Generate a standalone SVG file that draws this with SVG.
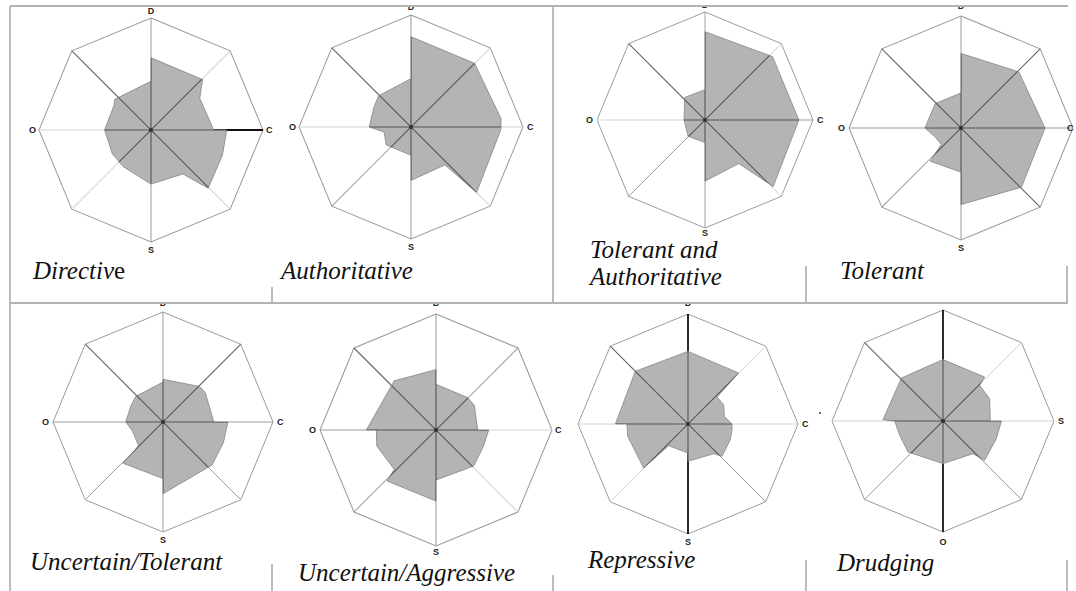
<svg xmlns="http://www.w3.org/2000/svg" xmlns:xlink="http://www.w3.org/1999/xlink" width="1076" height="591" viewBox="0 0 1076 591">
  <style>
    .frame { fill: #fff; stroke: #9a9a9a; stroke-width: 0.9; }
    .area { fill: #b4b4b4; stroke: #8c8c8c; stroke-width: 0.8; stroke-linejoin: round; }
    .inner { fill: none; stroke: #555; stroke-width: 1; }
    .blk { stroke: #111; stroke-width: 1.6; }
    .drk { stroke: #666; stroke-width: 1; }
    .mid { stroke: #9c9c9c; stroke-width: 0.9; }
    .lgt { stroke: #d2d2d2; stroke-width: 0.9; }
    .hub { fill: #333; }
    .ax { font-family: "Liberation Sans", Arial, sans-serif; font-weight: bold; font-size: 9px; fill: #222; }
    .cap { font-family: "Liberation Serif", "Times New Roman", Times, serif; font-style: italic; font-size: 25px; fill: #111; }
    .rule { stroke: #b4b4b4; stroke-width: 1.8; fill: none; }
  </style>
  <defs>
    <!-- unit octagon (radius 100) and its eight spokes -->
    <polygon id="oct" points="0,-100 70.7,-70.7 100,0 70.7,70.7 0,100 -70.7,70.7 -100,0 -70.7,-70.7"/>
    <line id="sD" x1="0" y1="0" x2="0" y2="-100"/>
    <line id="sNE" x1="0" y1="0" x2="70.7" y2="-70.7"/>
    <line id="sC" x1="0" y1="0" x2="100" y2="0"/>
    <line id="sSE" x1="0" y1="0" x2="70.7" y2="70.7"/>
    <line id="sS" x1="0" y1="0" x2="0" y2="100"/>
    <line id="sSW" x1="0" y1="0" x2="-70.7" y2="70.7"/>
    <line id="sO" x1="0" y1="0" x2="-100" y2="0"/>
    <line id="sNW" x1="0" y1="0" x2="-70.7" y2="-70.7"/>
    <path id="spokes" d="M0,-100V100M-100,0H100M-70.7,-70.7L70.7,70.7M70.7,-70.7L-70.7,70.7"/>

    <!-- profile shapes -->
    <polygon id="p1" points="0,-64.5 46,-45 43.5,-28.4 56,0 67.6,0 63.7,22.7 51,52 28.5,39.2 0,48.3 -24.9,32.7 -34.5,21.3 -41.4,0 -33,-22 -32.4,-27.4 0,-43.5"/>
    <polygon id="p2" points="0,-80.6 56.7,-56.9 80.3,-7.7 80.3,0 80,3 58.5,58.5 30.3,33.8 0,47.7 0,25.2 -22.1,16 -24,4.5 -37.3,0 -33,-18 -28.8,-28 0,-43.1"/>
    <polygon id="p3" points="0,-81.7 62.5,-58.7 86.9,0 63.1,61.6 31.3,40.3 0,56.6 0,20.8 -15.6,15.1 -19.4,0 -18.8,-20.9 0,-28.1"/>
    <polygon id="p4" points="0,-66.6 51.6,-50.1 75,0 54,52.8 0,68.4 0,39.4 -27.5,29.6 -17.6,14.6 -23,8.1 -32.2,0 -23,-21.8 0,-31.3"/>
    <polygon id="p5" points="0,-38.8 33.2,-32.3 38.5,-26.5 46.2,0 59,0 54.8,19.1 44.6,39.1 0,65.2 0,51.4 -36.3,37.5 -22.2,21.5 -27.7,8.3 -33.8,0 -29.2,-14.8 -24.6,-23.4 0,-36.3"/>
    <polygon id="p6" points="0,-39.4 27.3,-27.9 33,-21.3 35.9,0 45.4,0 41,13.8 32.5,31 0,43.1 0,61.2 -42.2,44 -36,33.9 -51,13.8 -51.4,0 -60,0 -36,-42.4 0,-52"/>
    <polygon id="p7" points="0,-66 46,-46.4 26.4,-24.5 32.4,-17.6 33,-7 40,0 40,5.1 38.5,14.2 30.9,29.4 23.3,27 0,33.9 0,26.4 -17.6,19.7 -40.3,40 -54.8,11.2 -55.5,0 -66,0 -47.9,-47.9"/>
    <polygon id="p8" points="0,-55.3 37.5,-39.6 33,-32.1 42,-20.1 42.6,0 52.6,0 48,15.9 37.5,35.4 27,29.4 0,38.4 -18,32.4 -31.5,27.9 -39,12.9 -43.5,0 -54,-1.2 -37.5,-38.7"/>

    <clipPath id="k1"><use xlink:href="#p1"/></clipPath>
    <clipPath id="k2"><use xlink:href="#p2"/></clipPath>
    <clipPath id="k3"><use xlink:href="#p3"/></clipPath>
    <clipPath id="k4"><use xlink:href="#p4"/></clipPath>
    <clipPath id="k5"><use xlink:href="#p5"/></clipPath>
    <clipPath id="k6"><use xlink:href="#p6"/></clipPath>
    <clipPath id="k7"><use xlink:href="#p7"/></clipPath>
    <clipPath id="k8"><use xlink:href="#p8"/></clipPath>

    <!-- table rows -->
    <clipPath id="rowTop"><rect x="0" y="7" width="1076" height="296"/></clipPath>
    <clipPath id="rowBot"><rect x="0" y="304" width="1076" height="287"/></clipPath>
  </defs>

  <rect width="1076" height="591" fill="#fff"/>

  <!-- table rules -->
  <g id="table">
    <path class="rule" d="M10,6H1068 M10,303H1068 M10,6V591 M553,6V303"/>
    <path class="rule" d="M272,287V303 M806,266V303 M1067,266V303"/>
    <path class="rule" d="M272,564V591 M553,575V591 M806,560V591 M1067,560V591"/>
  </g>

  <!-- Directive -->
  <g id="chart-directive">
    <g clip-path="url(#rowTop)">
      <g transform="translate(151,130) scale(1.12)">
        <use xlink:href="#oct" class="frame"/>
        <use xlink:href="#sD" class="mid"/><use xlink:href="#sNE" class="lgt"/><use xlink:href="#sC" class="blk"/><use xlink:href="#sSE" class="lgt"/>
        <use xlink:href="#sS" class="mid"/><use xlink:href="#sSW" class="lgt"/><use xlink:href="#sO" class="lgt"/><use xlink:href="#sNW" class="drk"/>
        <use xlink:href="#p1" class="area"/>
        <use xlink:href="#spokes" class="inner" clip-path="url(#k1)"/>
        <circle class="hub" r="1.8"/>
      </g>
      <text class="ax" x="151" y="14" text-anchor="middle">D</text>
      <text class="ax" x="266" y="133">C</text>
      <text class="ax" x="36" y="133" text-anchor="end">O</text>
      <text class="ax" x="151" y="253" text-anchor="middle">S</text>
    </g>
    <text class="cap" x="33" y="279">Directiv<tspan font-style="normal">e</tspan></text>
  </g>

  <!-- Authoritative -->
  <g id="chart-authoritative">
    <g clip-path="url(#rowTop)">
      <g transform="translate(411,127) scale(1.12)">
        <use xlink:href="#oct" class="frame"/>
        <use xlink:href="#sD" class="mid"/><use xlink:href="#sNE" class="lgt"/><use xlink:href="#sC" class="lgt"/><use xlink:href="#sSE" class="lgt"/>
        <use xlink:href="#sS" class="mid"/><use xlink:href="#sSW" class="mid"/><use xlink:href="#sO" class="lgt"/><use xlink:href="#sNW" class="drk"/>
        <use xlink:href="#p2" class="area"/>
        <use xlink:href="#spokes" class="inner" clip-path="url(#k2)"/>
        <circle class="hub" r="1.8"/>
      </g>
      <text class="ax" x="411" y="10" text-anchor="middle">D</text>
      <text class="ax" x="527" y="130">C</text>
      <text class="ax" x="296" y="130" text-anchor="end">O</text>
      <text class="ax" x="411" y="250" text-anchor="middle">S</text>
    </g>
    <text class="cap" x="281" y="279">Authoritative</text>
  </g>

  <!-- Tolerant and Authoritative -->
  <g id="chart-tolerant-authoritative">
    <g clip-path="url(#rowTop)">
      <g transform="translate(705,120) scale(1.08)">
        <use xlink:href="#oct" class="frame"/>
        <use xlink:href="#sD" class="mid"/><use xlink:href="#sNE" class="lgt"/><use xlink:href="#sC" class="mid"/><use xlink:href="#sSE" class="lgt"/>
        <use xlink:href="#sS" class="mid"/><use xlink:href="#sSW" class="mid"/><use xlink:href="#sO" class="lgt"/><use xlink:href="#sNW" class="drk"/>
        <use xlink:href="#p3" class="area"/>
        <use xlink:href="#spokes" class="inner" clip-path="url(#k3)"/>
        <circle class="hub" r="1.8"/>
      </g>
      <text class="ax" x="705" y="7.5" text-anchor="middle">D</text>
      <text class="ax" x="817" y="123">C</text>
      <text class="ax" x="593" y="123" text-anchor="end">O</text>
      <text class="ax" x="705" y="235.5" text-anchor="middle">S</text>
    </g>
    <text class="cap" x="590" y="258">Tolerant and</text>
    <text class="cap" x="590" y="285">Authoritative</text>
  </g>

  <!-- Tolerant -->
  <g id="chart-tolerant">
    <g clip-path="url(#rowTop)">
      <g transform="translate(961,128) scale(1.12)">
        <use xlink:href="#oct" class="frame"/>
        <use xlink:href="#sD" class="mid"/><use xlink:href="#sNE" class="drk"/><use xlink:href="#sC" class="mid"/><use xlink:href="#sSE" class="drk"/>
        <use xlink:href="#sS" class="mid"/><use xlink:href="#sSW" class="mid"/><use xlink:href="#sO" class="mid"/><use xlink:href="#sNW" class="drk"/>
        <use xlink:href="#p4" class="area"/>
        <use xlink:href="#spokes" class="inner" clip-path="url(#k4)"/>
        <circle class="hub" r="1.8"/>
      </g>
      <text class="ax" x="961" y="9" text-anchor="middle">D</text>
      <text class="ax" x="1067" y="131">C</text>
      <text class="ax" x="845" y="131" text-anchor="end">O</text>
      <text class="ax" x="961" y="251" text-anchor="middle">S</text>
    </g>
    <text class="cap" x="840" y="279">Tolerant</text>
  </g>

  <!-- Uncertain/Tolerant -->
  <g id="chart-uncertain-tolerant">
    <g clip-path="url(#rowBot)">
      <g transform="translate(163,422) scale(1.1)">
        <use xlink:href="#oct" class="frame"/>
        <use xlink:href="#sD" class="mid"/><use xlink:href="#sNE" class="drk"/><use xlink:href="#sC" class="mid"/><use xlink:href="#sSE" class="mid"/>
        <use xlink:href="#sS" class="mid"/><use xlink:href="#sSW" class="mid"/><use xlink:href="#sO" class="mid"/><use xlink:href="#sNW" class="drk"/>
        <use xlink:href="#p5" class="area"/>
        <use xlink:href="#spokes" class="inner" clip-path="url(#k5)"/>
        <circle class="hub" r="1.8"/>
      </g>
      <text class="ax" x="163" y="306" text-anchor="middle">D</text>
      <text class="ax" x="277" y="425">C</text>
      <text class="ax" x="49" y="425" text-anchor="end">O</text>
      <text class="ax" x="163" y="543" text-anchor="middle">S</text>
    </g>
    <text class="cap" x="30" y="570">Uncertain/Tolerant</text>
  </g>

  <!-- Uncertain/Aggressive -->
  <g id="chart-uncertain-aggressive">
    <g clip-path="url(#rowBot)">
      <g transform="translate(436,430) scale(1.16)">
        <use xlink:href="#oct" class="frame"/>
        <use xlink:href="#sD" class="mid"/><use xlink:href="#sNE" class="mid"/><use xlink:href="#sC" class="lgt"/><use xlink:href="#sSE" class="lgt"/>
        <use xlink:href="#sS" class="mid"/><use xlink:href="#sSW" class="mid"/><use xlink:href="#sO" class="mid"/><use xlink:href="#sNW" class="drk"/>
        <use xlink:href="#p6" class="area"/>
        <use xlink:href="#spokes" class="inner" clip-path="url(#k6)"/>
        <circle class="hub" r="1.8"/>
      </g>
      <text class="ax" x="436" y="306" text-anchor="middle">D</text>
      <text class="ax" x="555" y="433">C</text>
      <text class="ax" x="316" y="433" text-anchor="end">O</text>
      <text class="ax" x="436" y="555" text-anchor="middle">S</text>
    </g>
    <text class="cap" x="298" y="581">Uncertain/Aggressive</text>
  </g>

  <!-- Repressive -->
  <g id="chart-repressive">
    <g clip-path="url(#rowBot)">
      <g transform="translate(688,424) scale(1.1)">
        <use xlink:href="#oct" class="frame"/>
        <use xlink:href="#sD" class="blk"/><use xlink:href="#sNE" class="lgt"/><use xlink:href="#sC" class="lgt"/><use xlink:href="#sSE" class="mid"/>
        <use xlink:href="#sS" class="blk"/><use xlink:href="#sSW" class="lgt"/><use xlink:href="#sO" class="lgt"/><use xlink:href="#sNW" class="drk"/>
        <use xlink:href="#p7" class="area"/>
        <use xlink:href="#spokes" class="inner" clip-path="url(#k7)"/>
        <circle class="hub" r="1.8"/>
      </g>
      <text class="ax" x="688" y="306" text-anchor="middle">D</text>
      <text class="ax" x="802" y="427">C</text>
      <text class="ax" x="688" y="545" text-anchor="middle">S</text>
    </g>
    <text class="cap" x="588" y="568">Repressive</text>
  </g>

  <!-- Drudging -->
  <g id="chart-drudging">
    <g clip-path="url(#rowBot)">
      <g transform="translate(943,421) scale(1.11)">
        <use xlink:href="#oct" class="frame"/>
        <use xlink:href="#sD" class="blk"/><use xlink:href="#sNE" class="lgt"/><use xlink:href="#sC" class="lgt"/><use xlink:href="#sSE" class="mid"/>
        <use xlink:href="#sS" class="blk"/><use xlink:href="#sSW" class="mid"/><use xlink:href="#sO" class="lgt"/><use xlink:href="#sNW" class="drk"/>
        <use xlink:href="#p8" class="area"/>
        <use xlink:href="#spokes" class="inner" clip-path="url(#k8)"/>
        <circle class="hub" r="1.8"/>
      </g>
      <circle cx="820" cy="413" r="1" fill="#333"/>
      <text class="ax" x="1058" y="424">S</text>
      <text class="ax" x="943" y="545" text-anchor="middle">O</text>
    </g>
    <text class="cap" x="837" y="571">Drudging</text>
  </g>
</svg>
